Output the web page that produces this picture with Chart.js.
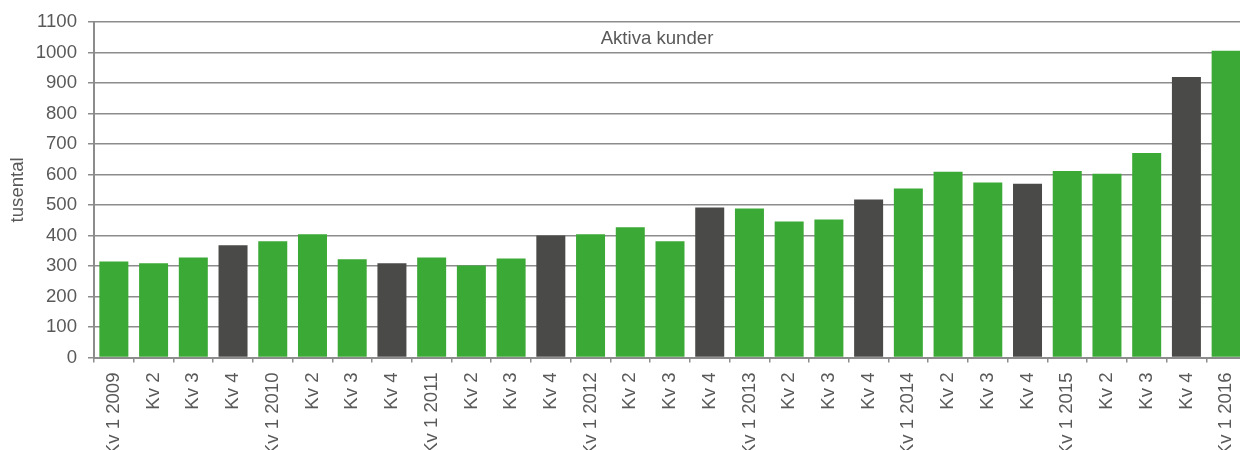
<!DOCTYPE html>
<html>
<head>
<meta charset="utf-8">
<script src="https://cdn.jsdelivr.net/npm/chart.js@4"></script>
<style>
  html, body { margin: 0; padding: 0; background: #fff; }
  .wrap { width: 1240px; height: 450px; overflow: hidden; position: relative; }
</style>
</head>
<body>
<!-- canvas is a bit wider than the window so the last bar runs off the edge like the original -->
<div class="wrap"><canvas id="chart" width="1246" height="450"></canvas></div>
<script>
// --- data ---
const quarterLabels = [
  "Kv 1 2009", "Kv 2", "Kv 3", "Kv 4",
  "Kv 1 2010", "Kv 2", "Kv 3", "Kv 4",
  "Kv 1 2011", "Kv 2", "Kv 3", "Kv 4",
  "Kv 1 2012", "Kv 2", "Kv 3", "Kv 4",
  "Kv 1 2013", "Kv 2", "Kv 3", "Kv 4",
  "Kv 1 2014", "Kv 2", "Kv 3", "Kv 4",
  "Kv 1 2015", "Kv 2", "Kv 3", "Kv 4",
  "Kv 1 2016"
];
const activeCustomers = [
  315, 309, 328, 368,
  381, 404, 322, 309,
  328, 302, 325, 400,
  404, 427, 381, 492,
  489, 446, 453, 518,
  554, 609, 574, 570,
  612, 603, 671, 920,
  1006
];
const yTicks = [0, 100, 200, 300, 400, 500, 600, 700, 800, 900, 1000, 1100];
const chartTitle = "Aktiva kunder";
const yAxisTitle = "tusental";

const GREEN = "#3ba935";
const DARK = "#4a4a48";
const GRID = "#8c8c8c";
const TEXT = "#595959";
const FONT = "'Liberation Sans', Arial, sans-serif";
const FONT_SIZE = 18.6;

// Kv 4 bars are dark
const barColors = quarterLabels.map(l => l === "Kv 4" ? DARK : GREEN);

// title drawn inside the plot area
const innerTitle = {
  id: "innerTitle",
  afterDraw(chart) {
    const ctx = chart.ctx;
    const y = chart.scales.y.getPixelForValue(1045);
    ctx.save();
    ctx.font = FONT_SIZE + "px " + FONT;
    ctx.fillStyle = TEXT;
    ctx.textAlign = "center";
    ctx.textBaseline = "middle";
    ctx.fillText(chartTitle, 657, y);
    ctx.restore();
  }
};

new Chart(document.getElementById("chart"), {
  type: "bar",
  data: {
    labels: quarterLabels,
    datasets: [{
      data: activeCustomers,
      backgroundColor: barColors,
      borderWidth: 0,
      barPercentage: 0.73,
      categoryPercentage: 1.0
    }]
  },
  options: {
    responsive: false,
    animation: false,
    devicePixelRatio: 1,
    layout: { padding: { top: 21, right: 0, bottom: 0, left: 0 } },
    plugins: {
      legend: { display: false },
      tooltip: { enabled: false },
      title: { display: false }
    },
    scales: {
      x: {
        afterFit: s => {
          s.height = 92.5;
          s.paddingLeft = 0;
          s.paddingRight = 0;
        },
        grid: {
          display: true,
          drawOnChartArea: false,
          drawTicks: true,
          tickLength: 5,
          color: GRID,
          lineWidth: 1.5,
          offset: true
        },
        border: { display: true, color: GRID, width: 2 },
        ticks: {
          color: TEXT,
          font: { family: FONT, size: FONT_SIZE },
          minRotation: 90,
          maxRotation: 90,
          autoSkip: false,
          padding: 10
        }
      },
      y: {
        min: 0,
        max: 1100,
        afterFit: s => { s.width = 94; },
        afterBuildTicks: s => { s.ticks = yTicks.map(v => ({ value: v })); },
        grid: {
          color: GRID,
          lineWidth: 1.5,
          drawTicks: true,
          tickLength: 6
        },
        border: { display: true, color: GRID, width: 2 },
        ticks: {
          color: TEXT,
          font: { family: FONT, size: FONT_SIZE },
          padding: 11,
          callback: v => String(v)
        },
        title: {
          display: true,
          text: yAxisTitle,
          color: TEXT,
          font: { family: FONT, size: FONT_SIZE },
          padding: { top: 7, bottom: 0 }
        }
      }
    }
  },
  plugins: [innerTitle]
});
</script>
</body>
</html>
